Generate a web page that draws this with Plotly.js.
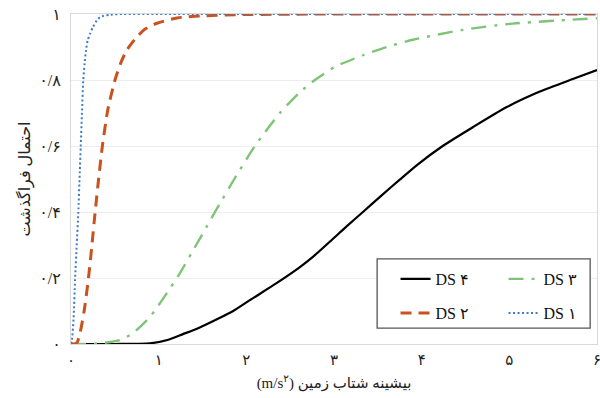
<!DOCTYPE html>
<html>
<head>
<meta charset="utf-8">
<script src="https://cdn.plot.ly/plotly-3.0.1.min.js"></script>
<style>html,body{margin:0;padding:0;background:#fff;}#chart{width:600px;height:398px;}</style>
</head>
<body>
<div id="chart"></div>
<script>
// Peak ground acceleration (m/s^2) and exceedance probability
const ds1X = [0, 0.01, 0.03, 0.046, 0.065, 0.083, 0.1, 0.111, 0.125, 0.14, 0.155, 0.171, 0.19, 0.217, 0.25, 0.293, 0.33, 0.365, 0.45, 0.6, 1, 2, 3, 4, 5, 6];
const ds1Y = [0, 0.01, 0.08, 0.194, 0.30, 0.396, 0.52, 0.598, 0.7, 0.8, 0.85, 0.89, 0.92, 0.94, 0.96, 0.98, 0.99, 0.994, 0.998, 1, 1, 1, 1, 1, 1, 1];

const ds2X = [0, 0.04, 0.07, 0.103, 0.15, 0.197, 0.235, 0.274, 0.315, 0.357, 0.42, 0.502, 0.565, 0.635, 0.749, 0.85, 0.98, 1.21, 1.47, 1.93, 3, 4, 5, 6];
const ds2Y = [0, 0, 0.005, 0.033, 0.10, 0.194, 0.29, 0.396, 0.50, 0.598, 0.71, 0.8, 0.85, 0.89, 0.93, 0.955, 0.972, 0.988, 0.994, 0.998, 1, 1, 1, 1];

const ds3X = [0, 0.2, 0.331, 0.45, 0.559, 0.707, 0.901, 1.095, 1.243, 1.391, 1.551, 1.642, 1.699, 1.87, 2.098, 2.383, 2.611, 2.782, 3.01, 3.33, 3.6, 3.9, 4.47, 5.04, 6.0];
const ds3Y = [0, 0, 0.002, 0.006, 0.012, 0.033, 0.082, 0.155, 0.215, 0.283, 0.357, 0.4, 0.426, 0.503, 0.6, 0.7, 0.763, 0.8, 0.84, 0.875, 0.9, 0.922, 0.952, 0.971, 0.987];

const ds4X = [0, 0.5, 0.9, 1.1, 1.277, 1.45, 1.665, 1.85, 2.041, 2.349, 2.611, 2.759, 3.147, 3.33, 3.55, 3.75, 3.95, 4.24, 4.584, 4.971, 5.348, 5.724, 6.0];
const ds4Y = [0, 0, 0.002, 0.012, 0.03, 0.048, 0.075, 0.1, 0.133, 0.185, 0.233, 0.264, 0.357, 0.4, 0.452, 0.498, 0.543, 0.6, 0.657, 0.718, 0.765, 0.803, 0.83];

const seriesNames = ['DS ۴', 'DS ۳', 'DS ۲', 'DS ۱'];

const xTickVals = [0, 1, 2, 3, 4, 5, 6];
const xTickText = ['۰', '۱', '۲', '۳', '۴', '۵', '۶'];
const yTickVals = [0, 0.2, 0.4, 0.6, 0.8, 1];
const yTickText = ['۰', '۰/۲', '۰/۴', '۰/۶', '۰/۸', '۱'];

const xTitle = '(m/s<sup>۲</sup>) بیشینه شتاب زمین';
const yTitle = 'احتمال فراگذشت';

const FONT = 'Liberation Serif, DejaVu Serif, DejaVu Sans, serif';

const traces = [
  {x: ds4X, y: ds4Y, name: seriesNames[0], legend: 'legend', mode: 'lines',
   line: {color: '#000000', width: 2.2, shape: 'spline', smoothing: 0.6}},
  {x: ds3X, y: ds3Y, name: seriesNames[1], legend: 'legend', mode: 'lines',
   line: {color: '#7dc477', width: 2.4, dash: '15px,8px,3px,8px', shape: 'spline', smoothing: 0.6}},
  {x: ds2X, y: ds2Y, name: seriesNames[2], legend: 'legend2', mode: 'lines',
   line: {color: '#c9521f', width: 3, dash: '11px,7px', shape: 'spline', smoothing: 0.6}},
  {x: ds1X, y: ds1Y, name: seriesNames[3], legend: 'legend2', mode: 'lines',
   line: {color: '#3b7cc4', width: 2, dash: '2px,2.5px', shape: 'spline', smoothing: 0.6}}
];

const legendCommon = {
  orientation: 'h', xanchor: 'left', yanchor: 'middle',
  bgcolor: 'rgba(0,0,0,0)', borderwidth: 0,
  entrywidth: 63, entrywidthmode: 'pixels',
  font: {family: FONT, size: 16, color: '#111'},
  traceorder: 'normal', itemclick: false
};

const layout = {
  width: 600, height: 398,
  margin: {l: 71, r: 3, t: 14, b: 54, pad: 0, autoexpand: false},
  paper_bgcolor: '#ffffff', plot_bgcolor: '#ffffff',
  font: {family: FONT, size: 14, color: '#222'},
  showlegend: true,
  legend: Object.assign({}, legendCommon, {x: 0.617, y: 0.197}),
  legend2: Object.assign({}, legendCommon, {x: 0.617, y: 0.094}),
  xaxis: {
    range: [0, 6], tickvals: xTickVals, ticktext: xTickText,
    showgrid: false, zeroline: false,
    showline: true, linecolor: '#d9d9d9', linewidth: 1, mirror: true,
    ticks: '', ticklabelstandoff: 2, ticklabeloverflow: 'allow',
    tickfont: {family: FONT, size: 15, color: '#222'},
    title: {text: xTitle, font: {family: FONT, size: 15, color: '#222'}, standoff: 10},
    automargin: false
  },
  yaxis: {
    range: [0, 1], tickvals: yTickVals, ticktext: yTickText,
    showgrid: true, gridcolor: '#ededed', gridwidth: 1, zeroline: false,
    showline: true, linecolor: '#d9d9d9', linewidth: 1, mirror: true,
    ticks: '', ticklabelstandoff: 6, ticklabeloverflow: 'allow',
    tickfont: {family: FONT, size: 16, color: '#222'},
    title: {text: yTitle, font: {family: FONT, size: 16, color: '#222'}, standoff: 4},
    automargin: false
  },
  shapes: [{
    type: 'rect', xref: 'paper', yref: 'paper',
    x0: 0.582, x1: 0.987, y0: 0.048, y1: 0.258,
    line: {color: '#555555', width: 1.3}, fillcolor: '#ffffff', layer: 'above'
  }]
};

Plotly.newPlot('chart', traces, layout, {displayModeBar: false, staticPlot: true});
</script>
</body>
</html>
